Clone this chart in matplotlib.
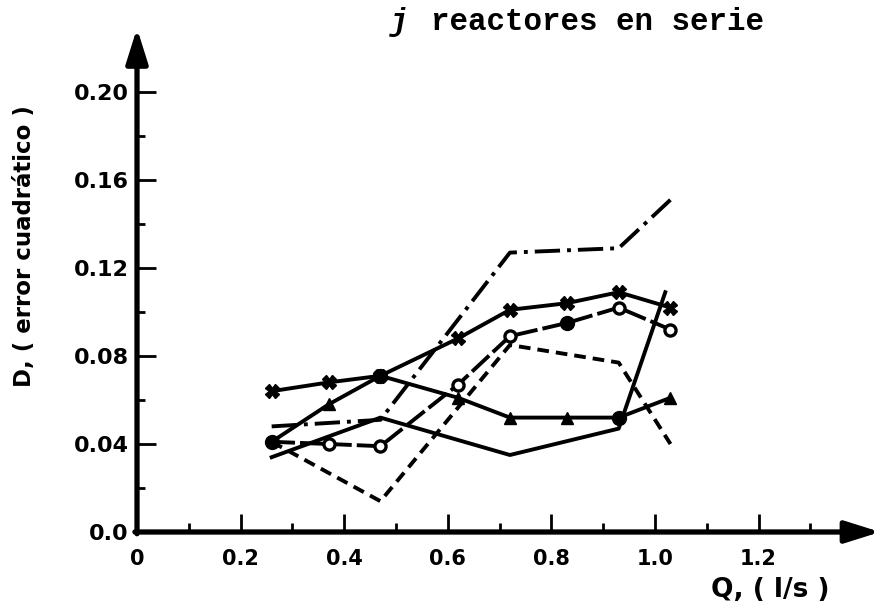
import numpy as np
import matplotlib
matplotlib.use("Agg")
import matplotlib.pyplot as plt
from matplotlib.ticker import FixedLocator

# caudal Q (l/s) y error cuadratico D para cada serie de reactores
q_cruz = [0.26, 0.37, 0.47, 0.62, 0.72, 0.83, 0.93, 1.03]
d_cruz = [0.064, 0.068, 0.071, 0.088, 0.101, 0.104, 0.109, 0.102]

q_triang = [0.26, 0.37, 0.47, 0.62, 0.72, 0.83, 0.93, 1.03]
d_triang = [0.041, 0.058, 0.071, 0.061, 0.052, 0.052, 0.052, 0.061]

q_circ = [0.26, 0.37, 0.47, 0.62, 0.72, 0.83, 0.93, 1.03]
d_circ = [0.041, 0.040, 0.039, 0.067, 0.089, 0.095, 0.102, 0.092]

q_rayas = [0.26, 0.47, 0.72, 0.93, 1.03]
d_rayas = [0.041, 0.014, 0.085, 0.077, 0.040]

q_punto = [0.26, 0.47, 0.72, 0.93, 1.03]
d_punto = [0.048, 0.051, 0.127, 0.129, 0.151]

q_solida = [0.26, 0.47, 0.72, 0.93, 1.02]
d_solida = [0.034, 0.052, 0.035, 0.047, 0.109]

xticks = [0, 0.2, 0.4, 0.6, 0.8, 1.0, 1.2]
xticklabels = ["0", "0.2", "0.4", "0.6", "0.8", "1.0", "1.2"]
yticks = [0.0, 0.04, 0.08, 0.12, 0.16, 0.20]
yticklabels = ["0.0", "0.04", "0.08", "0.12", "0.16", "0.20"]

plt.rcParams['font.family'] = ['DejaVu Sans']
plt.rcParams['font.weight'] = 'bold'

fig = plt.figure(figsize=(8.83, 6.04), dpi=100)
ax = fig.add_axes([137 / 883, 72 / 604, 751 / 883, 506 / 604])
ax.set_xlim(0, 1.45)
ax.set_ylim(0, 0.23)
for s in ax.spines.values():
    s.set_visible(False)

lw = 2.8
k = 'black'

# curvas
ax.plot(q_cruz, d_cruz, '-', color=k, lw=lw)
ax.plot(q_triang, d_triang, '-', color=k, lw=lw)
ax.plot(q_circ, d_circ, color=k, lw=lw, linestyle=(0, (6, 1.3)))
ax.plot(q_rayas, d_rayas, color=k, lw=lw, linestyle=(0, (3, 1.8)))
ax.plot(q_punto, d_punto, color=k, lw=lw, linestyle=(0, (6.5, 1.8, 1, 1.8)))
ax.plot(q_solida, d_solida, '-', color=k, lw=lw)

# marcadores (los puntos compartidos van rellenos)
ax.plot(q_cruz, d_cruz, 'X', color=k, ms=10, ls='none')
tri = [i for i in range(len(q_triang)) if i not in (0, 2, 6)]
ax.plot([q_triang[i] for i in tri], [d_triang[i] for i in tri], '^',
        color=k, ms=9, ls='none')
circ = [i for i in range(len(q_circ)) if i not in (0, 5)]
ax.plot([q_circ[i] for i in circ], [d_circ[i] for i in circ], 'o',
        mfc='white', mec=k, mew=2.4, ms=8, ls='none')
ax.plot([q_triang[0], q_triang[2], q_triang[6], q_circ[5]],
        [d_triang[0], d_triang[2], d_triang[6], d_circ[5]], 'o',
        color=k, ms=10, ls='none')

# ejes con flecha
ax.annotate('', xy=(0, 0.229), xytext=(0, -0.0008), annotation_clip=False,
            arrowprops=dict(arrowstyle='-|>,head_length=0.7,head_width=0.22',
                            lw=3.8, color=k, mutation_scale=30,
                            shrinkA=0, shrinkB=0))
ax.annotate('', xy=(1.435, 0), xytext=(-0.004, 0), annotation_clip=False,
            arrowprops=dict(arrowstyle='-|>,head_length=0.7,head_width=0.22',
                            lw=3.8, color=k, mutation_scale=30,
                            shrinkA=0, shrinkB=0))

ax.xaxis.set_major_locator(FixedLocator(xticks))
ax.xaxis.set_minor_locator(FixedLocator([0.1, 0.3, 0.5, 0.7, 0.9, 1.1, 1.3]))
ax.yaxis.set_major_locator(FixedLocator(yticks))
ax.yaxis.set_minor_locator(FixedLocator([0.02, 0.06, 0.10, 0.14, 0.18]))
ax.set_xticklabels(xticklabels, fontsize=15, fontweight='bold')
ax.set_yticklabels(yticklabels, fontsize=16, fontweight='bold')
ax.tick_params(axis='x', which='major', direction='in', length=13, width=2, pad=12)
ax.tick_params(axis='x', which='minor', direction='in', length=6.5, width=2)
ax.tick_params(axis='y', which='major', direction='in', length=14, width=2, pad=6)
ax.tick_params(axis='y', which='minor', direction='in', length=5.5, width=2)

fig.text(25 / 883, 1 - 246 / 604, "D, ( error cuadrático )", rotation=90,
         ha='center', va='center', fontsize=16.5, fontweight='bold')
fig.text(770 / 883, 1 - 590 / 604, "Q, ( l/s )", ha='center', va='center',
         fontsize=19, fontweight='bold')

fig.text(390 / 883, 1 - 22 / 604, "j", ha='left', va='center', fontsize=22,
         family='Liberation Mono', style='italic', fontweight='bold')
fig.text(431 / 883, 1 - 22 / 604, "reactores en serie", ha='left', va='center',
         fontsize=22.2, family='Liberation Mono', fontweight='bold')

fig.savefig('out.png', dpi=100, facecolor='white')
